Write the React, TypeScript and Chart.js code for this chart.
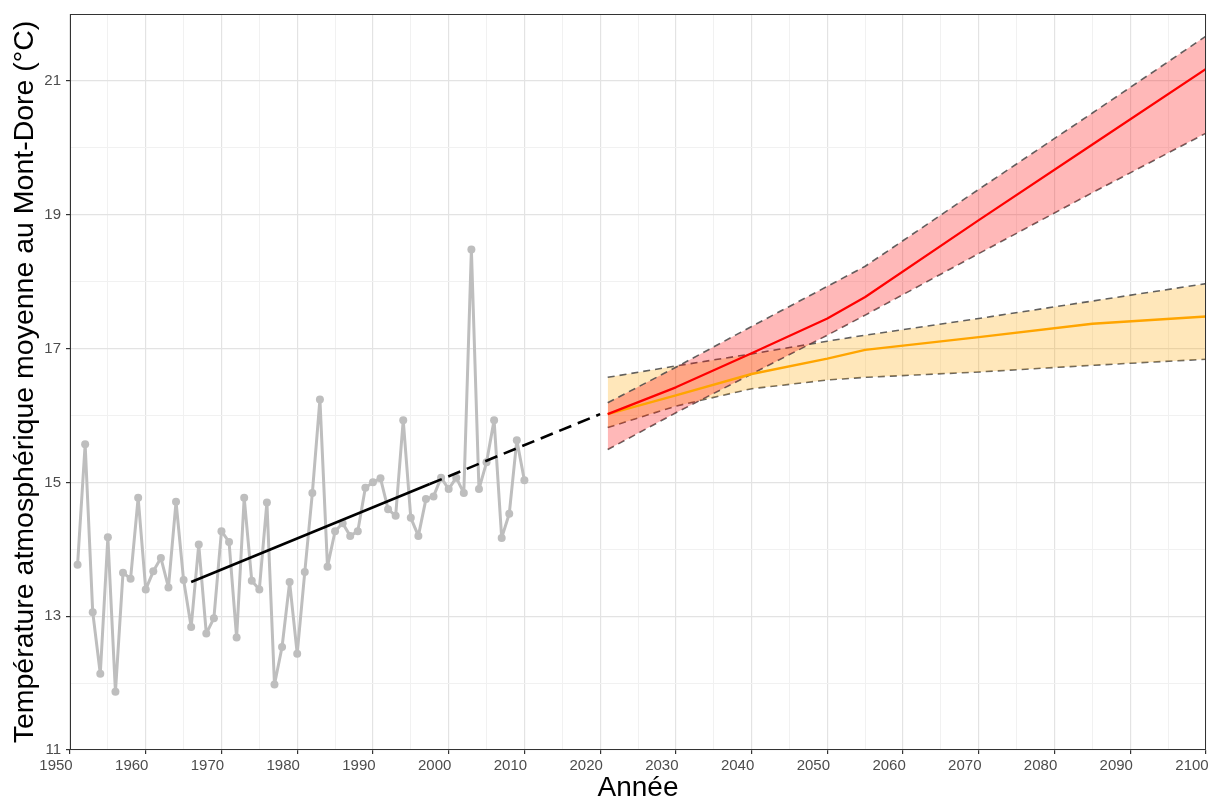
import React, { useEffect, useRef } from 'react';
import { Chart, registerables } from 'chart.js';

Chart.register(...registerables);

const obsYears = [
  1951, 1952, 1953, 1954, 1955, 1956, 1957, 1958, 1959, 1960,
  1961, 1962, 1963, 1964, 1965, 1966, 1967, 1968, 1969, 1970,
  1971, 1972, 1973, 1974, 1975, 1976, 1977, 1978, 1979, 1980,
  1981, 1982, 1983, 1984, 1985, 1986, 1987, 1988, 1989, 1990,
  1991, 1992, 1993, 1994, 1995, 1996, 1997, 1998, 1999, 2000,
  2001, 2002, 2003, 2004, 2005, 2006, 2007, 2008, 2009, 2010,
];
const obsTemps = [
  13.77, 15.57, 13.06, 12.14, 14.18, 11.87, 13.65, 13.56, 14.77, 13.4,
  13.67, 13.87, 13.43, 14.71, 13.54, 12.84, 14.07, 12.74, 12.97, 14.27,
  14.11, 12.68, 14.77, 13.53, 13.4, 14.7, 11.98, 12.54, 13.51, 12.44,
  13.66, 14.84, 16.24, 13.74, 14.27, 14.39, 14.2, 14.27, 14.92, 15.0,
  15.06, 14.6, 14.5, 15.93, 14.47, 14.2, 14.75, 14.79, 15.07, 14.9,
  15.07, 14.84, 18.48, 14.9, 15.3, 15.93, 14.17, 14.53, 15.63, 15.03,
];

const trendSolidYears = [1966, 1997.5];
const trendSolidTemps = [13.51, 14.975];
const trendDashYears = [1997.5, 2020];
const trendDashTemps = [14.975, 16.02];

const projYears = [2021, 2030, 2040, 2050, 2055, 2070, 2085, 2100];
const redMid = [16.02, 16.42, 16.93, 17.45, 17.77, 18.92, 20.05, 21.18];
const redHigh = [16.19, 16.72, 17.33, 17.93, 18.23, 19.38, 20.52, 21.67];
const redLow = [15.49, 16.04, 16.62, 17.2, 17.5, 18.42, 19.33, 20.22];
const orangeMid = [16.02, 16.3, 16.62, 16.85, 16.98, 17.17, 17.37, 17.48];
const orangeHigh = [16.57, 16.74, 16.92, 17.11, 17.2, 17.45, 17.71, 17.97];
const orangeLow = [15.82, 16.14, 16.4, 16.53, 16.57, 16.65, 16.75, 16.84];

const xTitle = 'Année';
const yTitle = 'Température atmosphérique moyenne au Mont-Dore (°C)';

const pts = (xs: number[], ys: number[]) => xs.map((x, i) => ({ x, y: ys[i] }));

const FONT = "'Liberation Sans', Arial, sans-serif";

const panelBorder = {
  id: 'panelBorder',
  afterDatasetsDraw(chart: any) {
    const { ctx, chartArea: a } = chart;
    ctx.save();
    ctx.strokeStyle = '#333333';
    ctx.lineWidth = 1;
    ctx.strokeRect(a.left + 0.5, a.top + 0.5, a.width - 1, a.height - 1);
    ctx.restore();
  },
};

export default function App() {
  const ref = useRef<HTMLCanvasElement | null>(null);

  useEffect(() => {
    if (!ref.current) return;
    const bandLine = {
      borderColor: 'rgba(70,70,70,0.85)',
      borderWidth: 1.6,
      borderDash: [7, 5],
      pointRadius: 0,
      tension: 0,
    };
    const chart = new Chart(ref.current, {
      type: 'line',
      data: {
        datasets: [
          {
            data: pts(projYears, orangeLow),
            ...bandLine,
            fill: false,
            order: 10,
          },
          {
            data: pts(projYears, orangeHigh),
            ...bandLine,
            fill: '-1',
            backgroundColor: 'rgba(255,165,0,0.27)',
            order: 9,
          },
          {
            data: pts(projYears, redLow),
            ...bandLine,
            fill: false,
            order: 8,
          },
          {
            data: pts(projYears, redHigh),
            ...bandLine,
            fill: '-1',
            backgroundColor: 'rgba(255,0,0,0.28)',
            order: 7,
          },
          {
            data: pts(obsYears, obsTemps),
            borderColor: '#BEBEBE',
            backgroundColor: '#BEBEBE',
            borderWidth: 3,
            borderJoinStyle: 'round',
            pointRadius: 4,
            pointBorderWidth: 0,
            pointBackgroundColor: '#BEBEBE',
            tension: 0,
            fill: false,
            order: 6,
          },
          {
            data: pts(trendSolidYears, trendSolidTemps),
            borderColor: '#000000',
            borderWidth: 2.6,
            pointRadius: 0,
            fill: false,
            order: 5,
          },
          {
            data: pts(trendDashYears, trendDashTemps),
            borderColor: '#000000',
            borderWidth: 2.6,
            borderDash: [13, 7],
            pointRadius: 0,
            fill: false,
            order: 4,
          },
          {
            data: pts(projYears, orangeMid),
            borderColor: '#FFA500',
            borderWidth: 2.4,
            borderJoinStyle: 'round',
            pointRadius: 0,
            fill: false,
            order: 2,
          },
          {
            data: pts(projYears, redMid),
            borderColor: '#FF0000',
            borderWidth: 2.2,
            borderJoinStyle: 'round',
            pointRadius: 0,
            fill: false,
            order: 1,
          },
        ],
      },
      options: {
        animation: false,
        responsive: true,
        maintainAspectRatio: false,
        layout: { padding: { top: 14, right: 13, left: 0, bottom: 0 } },
        plugins: { legend: { display: false }, tooltip: { enabled: false } },
        scales: {
          x: {
            type: 'linear',
            min: 1950,
            max: 2100,
            afterFit: (s: any) => {
              s.height = 55;
              s.paddingRight = 0;
              s.paddingLeft = 0;
              s.paddingTop = 0;
              s.paddingBottom = 0;
            },
            ticks: {
              stepSize: 5,
              autoSkip: false,
              maxRotation: 0,
              labelOffset: -14,
              color: '#4D4D4D',
              padding: 3,
              font: { family: FONT, size: 15 },
              callback: (v: any) => (Number(v) % 10 === 0 ? String(v) : ''),
            },
            grid: {
              color: (c: any) => (c.tick && c.tick.value % 10 === 0 ? '#E3E3E3' : '#F1F1F1'),
              lineWidth: (c: any) => (c.tick && c.tick.value % 10 === 0 ? 1.2 : 1),
              tickLength: 4,
              tickColor: (c: any) => (c.tick && c.tick.value % 10 === 0 ? '#333333' : 'rgba(0,0,0,0)'),
            },
            border: { display: false },
            title: {
              display: true,
              text: xTitle,
              color: '#000000',
              font: { family: FONT, size: 28 },
              padding: { top: 0, bottom: 0 },
            },
          },
          y: {
            type: 'linear',
            min: 11,
            max: 22,
            afterFit: (s: any) => {
              s.width = 70;
              s.paddingTop = 0;
              s.paddingBottom = 0;
              s.paddingLeft = 0;
              s.paddingRight = 0;
            },
            ticks: {
              stepSize: 1,
              autoSkip: false,
              color: '#4D4D4D',
              padding: 5,
              font: { family: FONT, size: 15 },
              callback: (v: any) => (Number(v) % 2 === 1 ? String(v) : ''),
            },
            grid: {
              color: (c: any) => (c.tick && c.tick.value % 2 === 1 ? '#E3E3E3' : '#F1F1F1'),
              lineWidth: (c: any) => (c.tick && c.tick.value % 2 === 1 ? 1.2 : 1),
              tickLength: 4,
              tickColor: (c: any) => (c.tick && c.tick.value % 2 === 1 ? '#333333' : 'rgba(0,0,0,0)'),
            },
            border: { display: false },
            title: {
              display: true,
              text: yTitle,
              color: '#000000',
              font: { family: FONT, size: 28.5 },
              padding: { top: 8, bottom: 0 },
            },
          },
        },
      },
      plugins: [panelBorder],
    } as any);
    return () => chart.destroy();
  }, []);

  return (
    <div style={{ position: 'fixed', left: 0, top: 0, width: 1219, height: 805, background: '#fff' }}>
      <canvas ref={ref} />
    </div>
  );
}
